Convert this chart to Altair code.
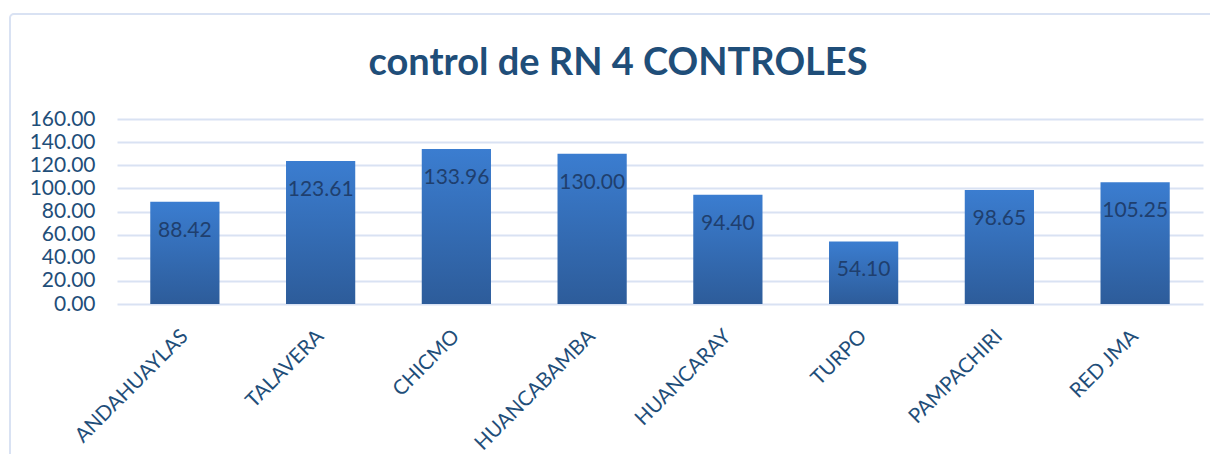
import altair as alt
import pandas as pd

categories = ["ANDAHUAYLAS", "TALAVERA", "CHICMO", "HUANCABAMBA", "HUANCARAY", "TURPO", "PAMPACHIRI", "RED JMA"]
values = [88.42, 123.61, 133.96, 130.00, 94.40, 54.10, 98.65, 105.25]
y_ticks = [0, 20, 40, 60, 80, 100, 120, 140, 160]
title_text = "control de RN 4 CONTROLES"

df = pd.DataFrame({"cat": categories, "val": values})

TEXT = "#1F4E79"
GRID = "#D9E2F3"
FONT = "Lato"

W, H = 1086, 185

x_enc = alt.X("cat:N", sort=categories, title=None,
              scale=alt.Scale(paddingInner=0.49, paddingOuter=0.245),
              axis=alt.Axis(labelAngle=-45, labelAlign="right", labelBaseline="middle",
                            labelPadding=29, ticks=False, domain=False, labelOverlap=False,
                            labelFont=FONT, labelFontSize=20.5, labelColor=TEXT))
y_enc = alt.Y("val:Q", title=None,
              scale=alt.Scale(domain=[0, 160], nice=False),
              axis=alt.Axis(values=y_ticks, format=".2f", ticks=False, domain=False,
                            labelOverlap=False, labelFont=FONT, labelFontSize=21,
                            labelColor=TEXT, labelPadding=22, grid=True,
                            gridColor=GRID, gridWidth=2))

frame = alt.Chart(alt.Data(values=[{}])).mark_rect(
    fill="transparent", stroke=GRID, strokeWidth=2, cornerRadius=4
).encode(x=alt.value(-107), x2=alt.value(1250), y=alt.value(-105), y2=alt.value(400))

title = alt.Chart(alt.Data(values=[{"t": title_text}])).mark_text(
    font=FONT, fontSize=38, fontWeight="bold", color=TEXT,
    align="center", baseline="alphabetic"
).encode(x=alt.value(501), y=alt.value(-44), text="t:N")

bars = alt.Chart(df).mark_bar(
    color=alt.Gradient(gradient="linear",
                       stops=[alt.GradientStop(color="#3B7DD0", offset=0),
                              alt.GradientStop(color="#2D5C9A", offset=1)],
                       x1=0, x2=0, y1=0, y2=1)
).encode(x=x_enc, y=y_enc)

labels = alt.Chart(df).mark_text(
    dy=29, baseline="middle", align="center", font=FONT, fontSize=21, color="#1F3F6E"
).encode(x=x_enc, y=y_enc, text=alt.Text("val:Q", format=".2f"))

chart = alt.layer(frame, title, bars, labels).properties(
    width=W, height=H,
    autosize=alt.AutoSizeParams(type="none"),
    padding={"left": 109, "top": 111, "right": 7, "bottom": 150},
).configure_view(stroke=None)

chart.save("out.html", embed_options={"renderer": "svg", "actions": False})
